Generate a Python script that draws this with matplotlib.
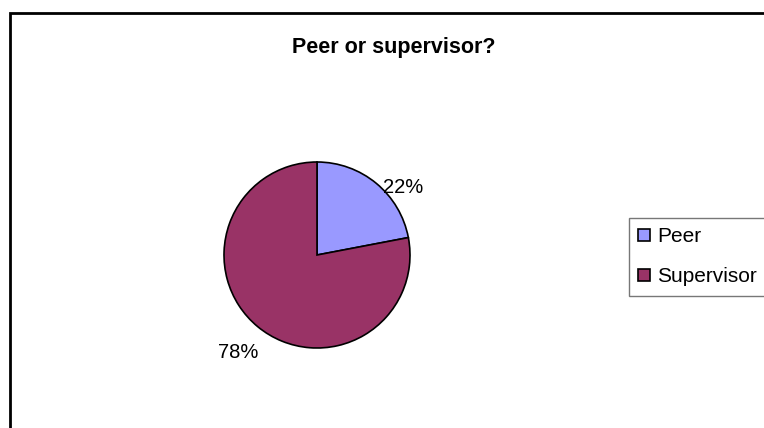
import matplotlib
matplotlib.use('Agg')
import matplotlib.pyplot as plt
from matplotlib.patches import Rectangle
import numpy as np

plt.rcParams['font.family'] = ['Liberation Sans', 'DejaVu Sans']

labels = ['Peer', 'Supervisor']
shares = [22, 78]
colors = ['#9999FF', '#993366']
label_angles = [38, 231]      # where the percentage texts sit (deg)
label_radii = [1.18, 1.35]

W, H = 764, 428
fig = plt.figure(figsize=(W / 100, H / 100), dpi=100)

# outer chart border (runs off the right and bottom edges)
fig.patches.append(Rectangle((10 / W, -0.1), 1.0, 1 - 13 / H + 0.1,
                             transform=fig.transFigure, fill=False,
                             edgecolor='black', linewidth=2))

fig.text(394 / W, 1 - 48 / H, 'Peer or supervisor?', ha='center', va='center',
         fontsize=15.5, fontweight='bold')

cx, cy, r = 317, 255, 93
ax = fig.add_axes([(cx - r) / W, (H - cy - r) / H, 2 * r / W, 2 * r / H])
wedges, _ = ax.pie(shares, colors=colors, startangle=90, counterclock=False,
                   wedgeprops=dict(edgecolor='black', linewidth=1.2))
ax.set_xlim(-1, 1)
ax.set_ylim(-1, 1)
ax.set_aspect('equal')

for s, a, rr in zip(shares, label_angles, label_radii):
    t = np.deg2rad(a)
    ax.text(rr * np.cos(t), rr * np.sin(t), f'{s}%', ha='center', va='center',
            fontsize=14.5, clip_on=False)

leg = fig.legend(wedges, labels, loc='upper left',
                 bbox_to_anchor=(629 / W, 1 - 218 / H), fontsize=15,
                 frameon=True, fancybox=False, handlelength=0.55,
                 handleheight=0.55, handletextpad=0.35, labelspacing=1.0,
                 borderpad=0.45, borderaxespad=0)
leg.get_frame().set_edgecolor('#555555')
leg.get_frame().set_linewidth(1.0)

fig.savefig('out.png', dpi=100)
